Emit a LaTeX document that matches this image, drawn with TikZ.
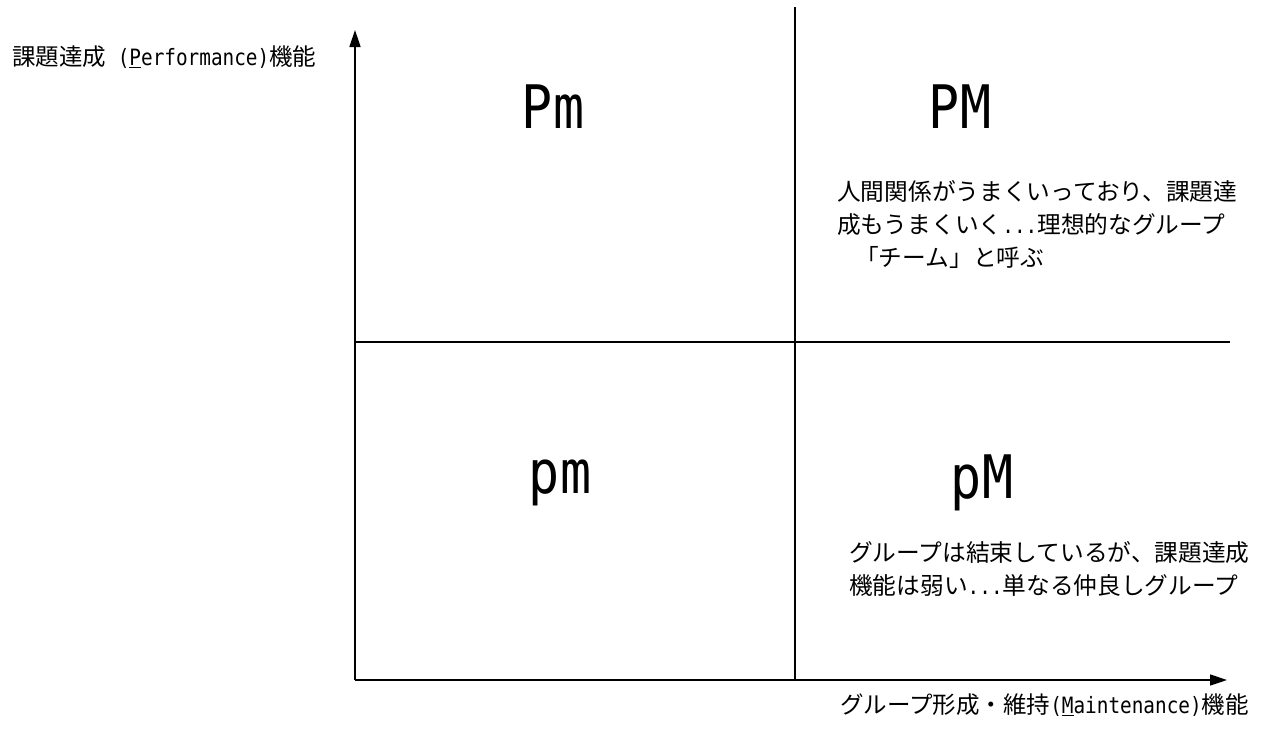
\documentclass[tikz,border=0pt]{standalone}
\usepackage{fontspec}
\setmainfont{Noto Sans CJK JP}
\newfontfamily\lat{DejaVu Sans Mono}
\newfontfamily\latn[FakeStretch=0.86]{DejaVu Sans Mono}
\usetikzlibrary{arrows.meta}
\tikzset{
  axis/.style={line width=1.5pt, -{Triangle[length=17pt,width=11pt]}},
  divider/.style={line width=1.5pt},
  big/.style={font=\latn\fontsize{60}{60}\selectfont, inner sep=0pt},
  desc/.style={font=\fontsize{23.7}{33}\selectfont, align=left, inner sep=0pt, anchor=north west},
  axlabel/.style={inner sep=0pt, anchor=west, font=\fontsize{23.5}{23.5}\selectfont}
}
\newcommand{\hw}[1]{{\latn\fontsize{22.5}{22.5}\selectfont #1}}
\begin{document}
\begin{tikzpicture}[x=1pt,y=-1pt]
\useasboundingbox (0,0) rectangle (1274,742);
\coordinate (O) at (355,680);
\coordinate (Ytip) at (355,30);
\coordinate (Xtip) at (1227,680);
\coordinate (Vtop) at (795,7);
\coordinate (Vbot) at (795,680);
\coordinate (Hl) at (355,342);
\coordinate (Hr) at (1230,342);
\draw[axis] (O) -- (Ytip);
\draw[axis] (O) -- (Xtip);
\draw[divider] (Vtop) -- (Vbot);
\draw[divider] (Hl) -- (Hr);
\node[big] (Pm) at (553,107) {Pm};
\node[big] (PM) at (960,107) {PM};
\node[big] (pm) at (560,483) {pm};
\node[big] (pM) at (982,483) {pM};
\node[desc] (PMtext) at (837,180) {人間関係がうまくいっており、課題達\\成もうまくいく\hw{...}理想的なグループ\\\hspace*{18pt}「チーム」と呼ぶ};
\node[desc] (pMtext) at (849,541) {グループは結束しているが、課題達成\\機能は弱い\hw{...}単なる仲良しグループ};
\node[axlabel] (ylab) at (12,57) {課題達成\hw{ (\underline{P}erformance)}機能};
\node[axlabel] (xlab) at (840,705) {グループ形成・維持\hw{(\underline{M}aintenance)}機能};
\end{tikzpicture}
\end{document}
